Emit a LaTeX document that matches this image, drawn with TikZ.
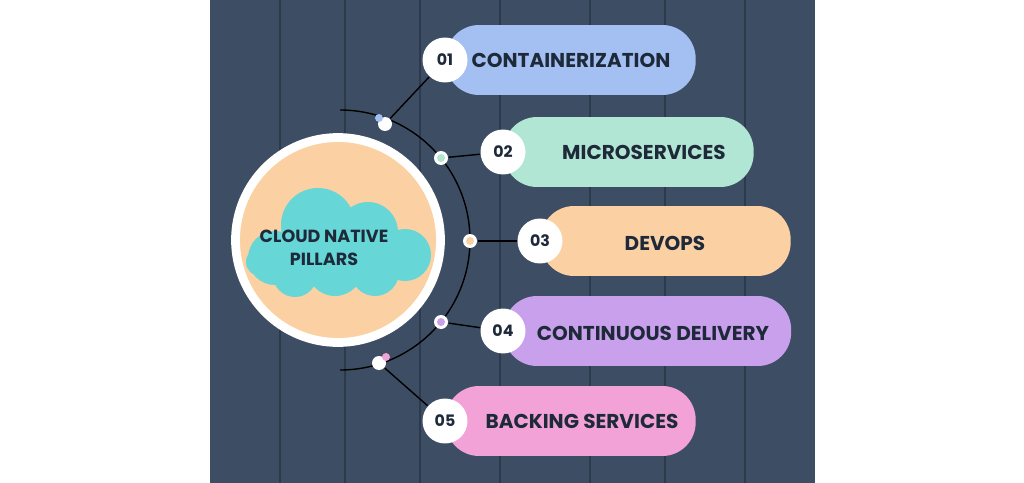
\documentclass[tikz,border=0pt]{standalone}
\usepackage{fontspec}
\setmainfont{Poppins}
\usetikzlibrary{positioning}
\definecolor{board}{HTML}{3D4E64}
\definecolor{boardline}{HTML}{2C3A4C}
\definecolor{cblue}{HTML}{A4BFF2}
\definecolor{cmint}{HTML}{B2E6D4}
\definecolor{cpeach}{HTML}{FBD0A2}
\definecolor{cpurple}{HTML}{C9A0EC}
\definecolor{cpink}{HTML}{F2A2D6}
\definecolor{cteal}{HTML}{66D6D6}
\definecolor{ctext}{HTML}{1E2A3A}
\begin{document}
\begin{tikzpicture}[x=0.02cm,y=-0.02cm,thick]
  \tikzset{
    pill/.style={rounded corners=19pt, minimum height=1.4cm, anchor=west,
      inner sep=0pt},
    lbl/.style={text=ctext, font=\bfseries\fontsize{11.4}{14}\selectfont},
    num/.style={circle, fill=white, minimum size=0.9cm, inner sep=0pt,
      text=ctext, font=\bfseries\small},
    dot/.style={circle, fill=white, minimum size=0.28cm, inner sep=0pt},
    cdot/.style={circle, minimum size=0.16cm, inner sep=0pt},
  }
  % -- Background --
  \useasboundingbox (0,0) rectangle (1024,483);
  \fill[white] (0,0) rectangle (1024,483);
  \fill[board] (210,0) rectangle (815,483);
  \foreach \x in {280,345,420,500,590,665,745}
    \draw[boardline, line width=1.5pt] (\x,0) -- (\x,483);

  % -- Center circle with cloud --
  \node[circle, fill=cpeach, draw=white, line width=5pt,
        minimum size=4.1cm] (hub) at (338,240) {};
  \fill[cteal] (275,258) circle (27) (318,225) circle (37) (368,232) circle (30)
    (405,255) circle (26) (335,268) circle (28) (295,275) circle (22)
    (375,272) circle (24) (260,262) circle (14);
  \node[text=ctext, font=\bfseries\fontsize{10}{13}\selectfont, align=center]
    (hubtext) at (324,248) {CLOUD NATIVE\\PILLARS};

  % -- Arc --
  \draw[black] (340,110) arc[start angle=-90, end angle=90, radius=130];

  % -- Pills --
  \node[pill, fill=cblue, minimum width=5cm] (p1) at (445,60) {};
  \node[pill, fill=cmint, minimum width=5cm] (p2) at (503,152) {};
  \node[pill, fill=cpeach, minimum width=5cm] (p3) at (540,241) {};
  \node[pill, fill=cpurple, minimum width=5.75cm] (p4) at (503,331) {};
  \node[pill, fill=cpink, minimum width=5cm] (p5) at (445,421) {};
  \node[lbl] at (571,60) {CONTAINERIZATION};
  \node[lbl] at (644,152) {MICROSERVICES};
  \node[lbl] at (665,243) {DEVOPS};
  \node[lbl] at (653,333) {CONTINUOUS DELIVERY};
  \node[lbl] at (582,421) {BACKING SERVICES};

  % -- Dots on the arc and links --
  \node[dot] (d1) at (385,124) {};
  \node[dot] (d2) at (441,158) {};
  \node[dot] (d3) at (470,241) {};
  \node[dot] (d4) at (441,322) {};
  \node[dot] (d5) at (379,363) {};
  \node[num] (n1) at (445,60) {01};
  \node[num] (n2) at (503,152) {02};
  \node[num] (n3) at (540,241) {03};
  \node[num] (n4) at (503,331) {04};
  \node[num] (n5) at (445,421) {05};
  \foreach \i in {1,...,5}
    \draw[black] (d\i) -- (n\i);
  \node[cdot, fill=cblue] at (379,118) {};
  \node[cdot, fill=cmint] at (441,158) {};
  \node[cdot, fill=cpeach] at (470,241) {};
  \node[cdot, fill=cpurple] at (441,322) {};
  \node[cdot, fill=cpink] at (386,357) {};
\end{tikzpicture}
\end{document}
